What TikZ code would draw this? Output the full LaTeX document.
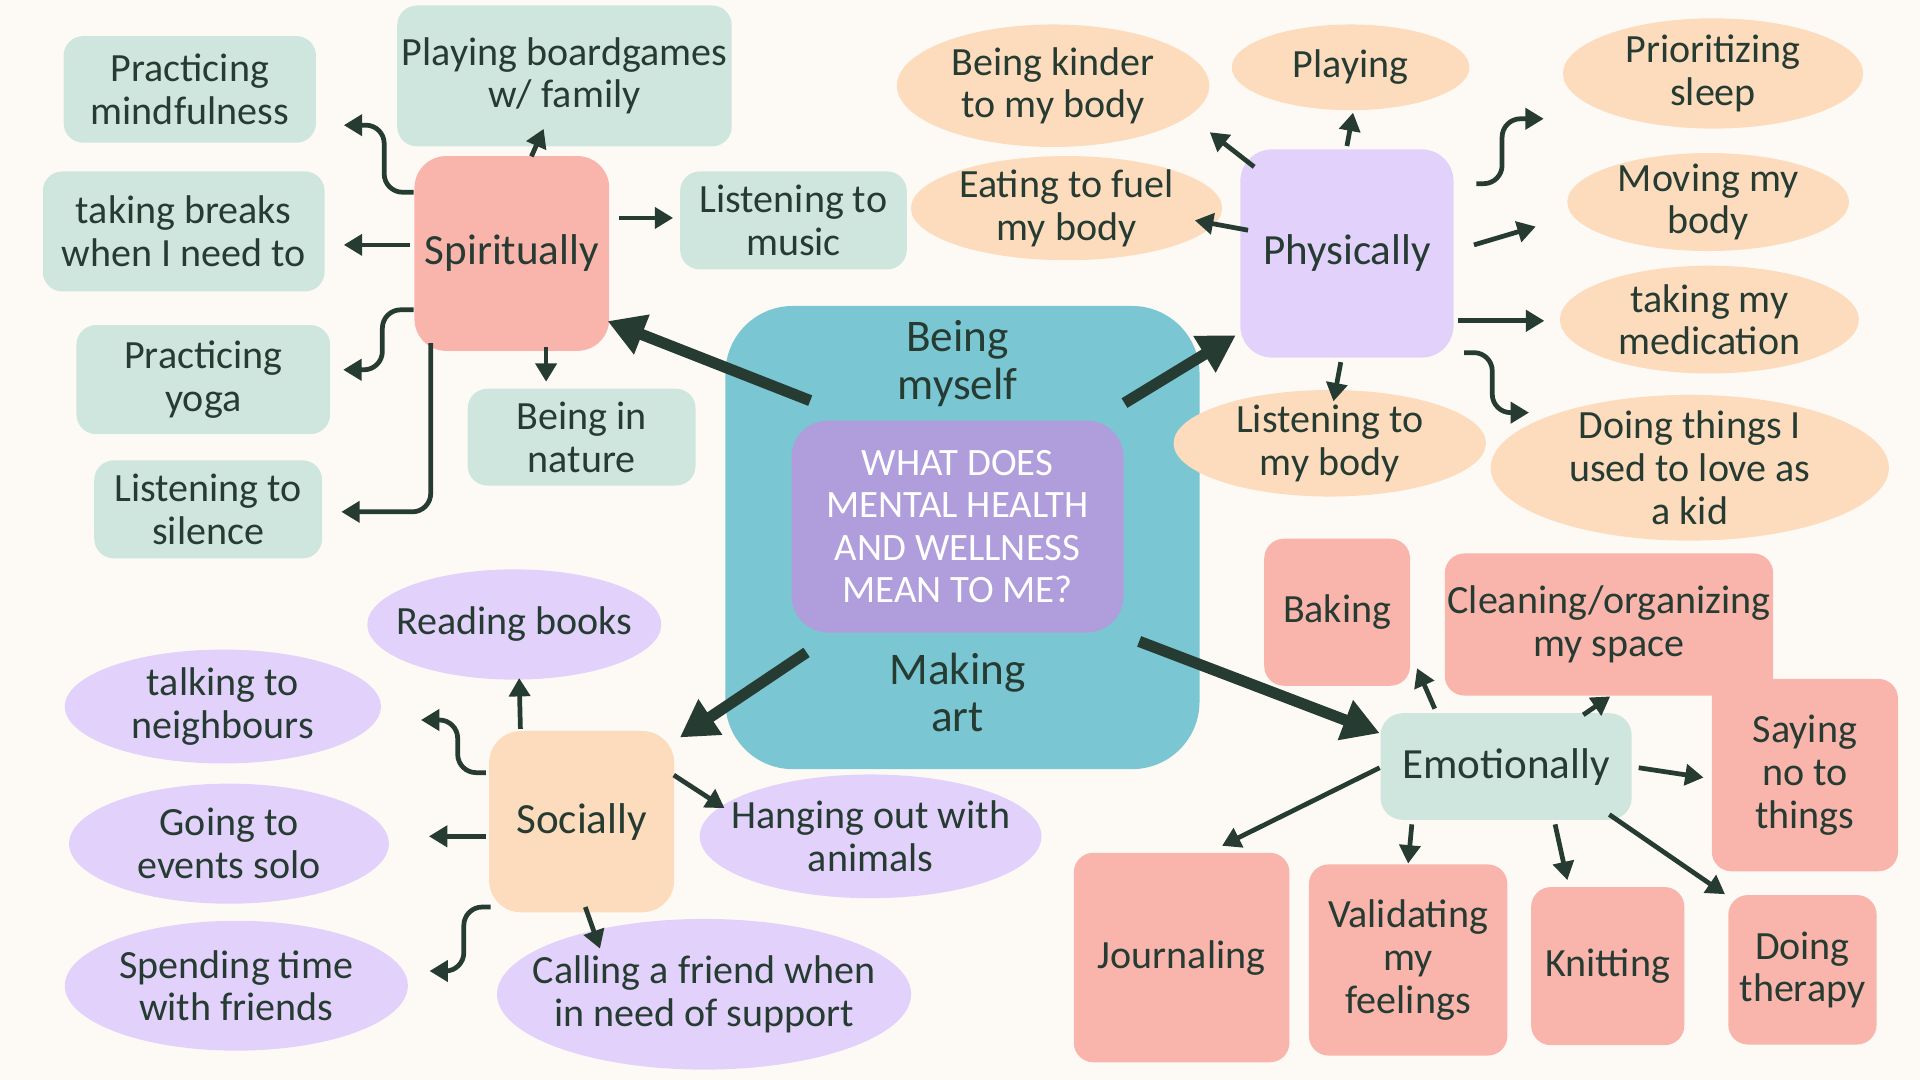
\documentclass[tikz,border=0pt]{standalone}
\usepackage{fontspec}
\setmainfont{Carlito}
\usetikzlibrary{positioning,calc,shapes.geometric,arrows.meta}
\definecolor{paper}{HTML}{FDFAF6}
\definecolor{ink}{HTML}{263B32}
\definecolor{mint}{HTML}{CFE6DF}
\definecolor{rose}{HTML}{F9B4AC}
\definecolor{peach}{HTML}{FDDCBE}
\definecolor{lilac}{HTML}{E2D2FB}
\definecolor{teal}{HTML}{7AC6D2}
\definecolor{violet}{HTML}{AF9DDC}
\newcommand{\leaffont}{\fontsize{9.3}{9.9}\selectfont}
\newcommand{\hubfont}{\fontsize{10}{11}\selectfont}
\tikzset{
  sz/.style 2 args={minimum width=#1*0.1mm, minimum height=#2*0.1mm},
  leaf/.style={align=center, inner sep=0pt, text=ink, font=\leaffont},
  mintbox/.style={leaf, fill=mint, rounded corners=1.6mm},
  pinkbox/.style={leaf, fill=rose, rounded corners=1.6mm},
  peachblob/.style={leaf, ellipse, fill=peach, inner sep=-4mm},
  lilacblob/.style={leaf, ellipse, fill=lilac, inner sep=-4mm},
  hub/.style={leaf, rounded corners=2.6mm, font=\hubfont},
  link/.style={-{Triangle[length=1.5mm,width=1.7mm]}, line width=1.1pt, draw=ink},
  biglink/.style={-{Triangle[length=3mm,width=3.3mm]}, line width=2.6pt, draw=ink}
}
\begin{document}
\begin{tikzpicture}[x=0.01cm, y=-0.01cm]
  \fill[paper] (0,0) rectangle (1568,882);
  \useasboundingbox (0,0) rectangle (1568,882);

  \node[leaf, fill=teal, rounded corners=5.5mm, sz={387}{378}] (core) at (786,439) {};
  \node[leaf, fill=violet, text=white, rounded corners=3mm, sz={271}{173}, font=\fontsize{9}{9.8}\selectfont] (q) at (782,430) {WHAT DOES\\MENTAL HEALTH\\AND WELLNESS\\MEAN TO ME?};
  \node[leaf, font=\fontsize{10.5}{11}\selectfont, above=1mm of q] (myself) {Being\\myself};
  \node[leaf, font=\fontsize{10.5}{11}\selectfont, below=1.5mm of q] (art) {Making\\art};

  \node[hub, fill=rose, sz={159}{159}] (spir) at (418,207) {Spiritually};
  \node[mintbox, sz={206}{87}] (mind) at (155,73) {Practicing\\mindfulness};
  \node[mintbox, sz={273}{115}] (games) at (461,62) {Playing boardgames\\w/ family};
  \node[mintbox, sz={230}{98}] (breaks) at (150,189) {taking breaks\\when I need to};
  \node[mintbox, sz={185}{80}] (music) at (648,180) {Listening to\\music};
  \node[mintbox, sz={207}{89}] (yoga) at (166,310) {Practicing\\yoga};
  \node[mintbox, sz={186}{79}] (nature) at (475,357) {Being in\\nature};
  \node[mintbox, sz={186}{80}] (silence) at (170,416) {Listening to\\silence};

  \node[hub, fill=lilac, sz={174}{170}] (phys) at (1100,207) {Physically};
  \node[peachblob, sz={255}{100}] (kinder) at (860,70) {Being kinder\\to my body};
  \node[peachblob, sz={194}{70}] (play) at (1103,55) {Playing};
  \node[peachblob, sz={245}{90}] (sleep) at (1399,60) {Prioritizing\\sleep};
  \node[peachblob, sz={254}{85}] (eat) at (871,170) {Eating to fuel\\my body};
  \node[peachblob, sz={230}{80}] (move) at (1395,165) {Moving my\\body};
  \node[peachblob, sz={244}{88}] (meds) at (1396,261) {taking my\\medication};
  \node[peachblob, sz={255}{87}] (lbody) at (1086,362) {Listening to\\my body};
  \node[peachblob, sz={325}{119}] (kid) at (1380,382) {Doing things I\\used to love as\\a kid};

  \node[hub, fill=peach, sz={151}{148}] (soc) at (475,671) {Socially};
  \node[lilacblob, sz={240}{90}] (read) at (420,510) {Reading books};
  \node[lilacblob, sz={258}{93}] (neigh) at (182,577) {talking to\\neighbours};
  \node[lilacblob, sz={261}{98}] (solo) at (187,689) {Going to\\events solo};
  \node[lilacblob, sz={280}{106}] (friends) at (193,805) {Spending time\\with friends};
  \node[lilacblob, sz={338}{123}] (call) at (575,812) {Calling a friend when\\in need of support};
  \node[lilacblob, sz={279}{101}] (pets) at (711,683) {Hanging out with\\animals};

  \node[hub, fill=mint, rounded corners=1.8mm, sz={205}{87}] (emo) at (1230,626) {Emotionally};
  \node[pinkbox, sz={119}{120}] (bake) at (1092,500) {Baking};
  \node[pinkbox, sz={268}{116}] (clean) at (1314,510) {Cleaning/organizing\\my space};
  \node[pinkbox, sz={152}{157}] (sayno) at (1474,633) {Saying\\no to\\things};
  \node[pinkbox, sz={176}{171}] (journal) at (965,782) {Journaling};
  \node[pinkbox, sz={162}{156}] (valid) at (1150,784) {Validating\\my\\feelings};
  \node[pinkbox, sz={125}{129}] (knit) at (1313,789) {Knitting};
  \node[pinkbox, sz={121}{122}] (therapy) at (1472,792) {Doing\\therapy};

  \draw[biglink] ($(core.north west)+(70,78)$) -- ($(spir.south east)+(-2,-25)$);
  \draw[biglink] ($(core.north east)+(-62,80)$) -- ($(phys.south west)+(-3,-19)$);
  \draw[biglink] ($(core.south west)+(67,-96)$) -- ($(soc.north east)+(4,6)$);
  \draw[biglink] ($(core.south east)+(-50,-105)$) -- ($(emo.north west)+(0,17)$);

  \draw[link, rounded corners=1.5mm] ($(spir.west)+(0,-50)$) -| ($(mind.south east)+(55,-15)$) -- ($(mind.south east)+(22,-15)$);
  \draw[link] ($(spir.north)+(16,1)$) -- ($(games.south)+(-17,-15)$);
  \draw[link] ($(spir.west)+(-3,-7)$) -- ($(breaks.east)+(15,11)$);
  \draw[link] ($(spir.east)+(7,-29)$) -- ($(music.west)+(-5,-2)$);
  \draw[link, rounded corners=1.5mm] ($(spir.west)+(0,46)$) -| ($(yoga.east)+(42,-8)$) -- ($(yoga.east)+(10,-8)$);
  \draw[link] ($(spir.south)+(28,-4)$) -- ($(nature.north)+(-29,-5)$);
  \draw[link, rounded corners=1.5mm] ($(spir.south west)+(14,-7)$) |- ($(silence.east)+(15,2)$);

  \draw[link] ($(phys.north west)+(12,15)$) -- ($(kinder)+(128,38)$);
  \draw[link] ($(phys.north)+(0,-2)$) -- ($(play)+(2,37)$);
  \draw[link, rounded corners=1.5mm] ($(phys.east)+(18,-57)$) -| ($(sleep.west)+(-49,37)$) -- ($(sleep.west)+(-15,37)$);
  \draw[link] ($(phys.west)+(7,-19)$) -- ($(eat.east)+(-23,10)$);
  \draw[link] ($(phys.east)+(16,-7)$) -- ($(move.west)+(-25,20)$);
  \draw[link] ($(phys.east)+(3,55)$) -- ($(meds.west)+(-12,1)$);
  \draw[link] ($(phys.south)+(-5,3)$) -- ($(lbody.north)+(3,10)$);
  \draw[link, rounded corners=1.5mm] ($(phys.east)+(8,81)$) -| ($(kid.west)+(2,-45)$) -- ($(kid.west)+(32,-45)$);

  \draw[link] ($(soc.north)+(-50,-1)$) -- ($(read.south)+(4,-2)$);
  \draw[link, rounded corners=1.5mm] ($(soc.west)+(-2,-40)$) -| ($(neigh.east)+(62,11)$) -- ($(neigh.east)+(32,11)$);
  \draw[link] ($(soc.west)+(-2,12)$) -- ($(solo.east)+(32,-6)$);
  \draw[link, rounded corners=1.5mm] ($(soc.south west)+(2,-5)$) -| ($(friends.east)+(45,-12)$) -- ($(friends.east)+(17,-12)$);
  \draw[link] ($(soc.south)+(3,-5)$) -- ($(call.north)+(-85,25)$);
  \draw[link] ($(soc.east)+(-1,-38)$) -- ($(pets.west)+(21,-23)$);

  \draw[link] ($(emo.north west)+(45,-3)$) -- ($(bake.south east)+(5,-15)$);
  \draw[link] ($(emo.north)+(63,2)$) -- ($(clean.south)+(1,0)$);
  \draw[link] ($(emo.east)+(5,1)$) -- ($(sayno.west)+(-6,2)$);
  \draw[link] ($(emo.west)+(0,1)$) -- ($(journal.north)+(33,-5)$);
  \draw[link] ($(emo.south)+(-77,3)$) -- (valid.north);
  \draw[link] ($(emo.south)+(40,3)$) -- ($(knit.north)+(-33,-5)$);
  \draw[link] ($(emo.south east)+(-19,-5)$) -- ($(therapy.north west)+(-2,0)$);
\end{tikzpicture}
\end{document}
